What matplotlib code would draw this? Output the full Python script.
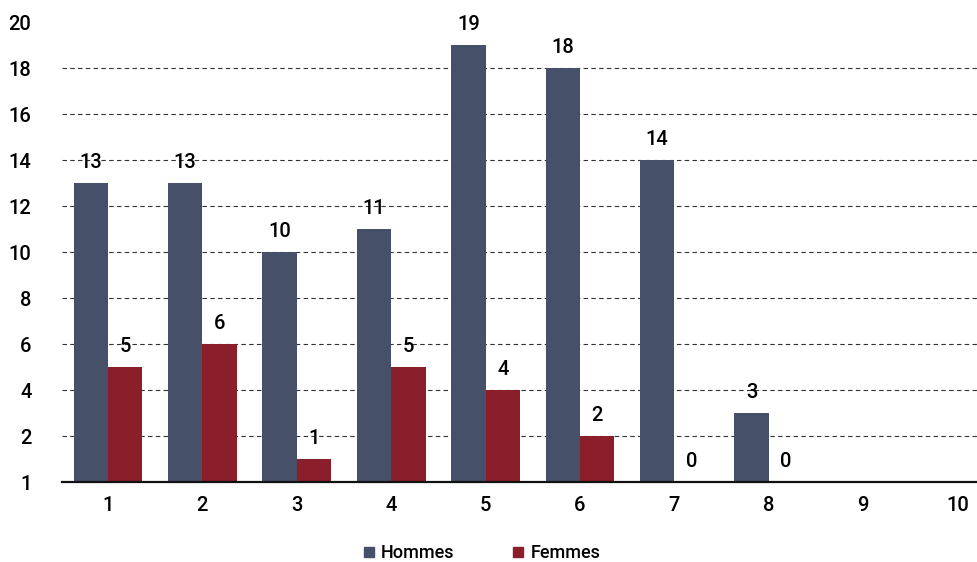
import matplotlib.pyplot as plt
from matplotlib.lines import Line2D
import numpy as np

plt.rcParams['font.family'] = ['Roboto', 'DejaVu Sans']
plt.rcParams['font.weight'] = 'medium'

# data
categories = [1, 2, 3, 4, 5, 6, 7, 8, 9, 10]
hommes = [13, 13, 10, 11, 19, 18, 14, 3, None, None]
femmes = [5, 6, 1, 5, 4, 2, 0, 0, None, None]
ytick_pos = [0, 2, 4, 6, 8, 10, 12, 14, 16, 18, 20]
ytick_lab = ['1', '2', '4', '6', '8', '10', '12', '14', '16', '18', '20']

c_h = '#465068'
c_f = '#8a1e2a'

fig = plt.figure(figsize=(9.78, 5.62), dpi=100)
ax = fig.add_axes([62/978, 80/562, 916/978, 460/562])

x = np.array(categories, dtype=float)
w = 0.365
for xi, h, f in zip(x, hommes, femmes):
    if h is None:
        continue
    ax.bar(xi - w/2, h, w, color=c_h, zorder=3)
    ax.bar(xi + w/2, f, w, color=c_f, zorder=3)
    ax.annotate(str(h), (xi - w/2, h), xytext=(0, 15), textcoords='offset points',
                ha='center', va='center', fontsize=14.5, zorder=4)
    ax.annotate(str(f), (xi + w/2, f), xytext=(0, 15), textcoords='offset points',
                ha='center', va='center', fontsize=14.5, zorder=4)

ax.set_xlim(0.513, 10.216)
ax.set_ylim(0, 20)
ax.set_xticks(x)
ax.set_xticklabels([str(c) for c in categories], fontsize=14.5)
ax.set_yticks(ytick_pos)
ax.set_yticklabels(ytick_lab, fontsize=14.5)
ax.tick_params(axis='both', length=0)
ax.tick_params(axis='x', pad=10)
ax.tick_params(axis='y', pad=22)
for lab in ax.get_yticklabels():
    lab.set_horizontalalignment('right')

ax.yaxis.grid(True, linestyle=(0, (4, 3)), color='#333333', linewidth=0.8, zorder=0)
gl = ax.get_ygridlines()
gl[0].set_visible(False)
gl[-1].set_visible(False)
for s in ['top', 'right', 'left']:
    ax.spines[s].set_visible(False)
ax.spines['bottom'].set_linewidth(1.6)
ax.spines['bottom'].set_color('#111111')
ax.spines['bottom'].set_zorder(5)

handles = [Line2D([], [], marker='s', linestyle='none', markersize=7.5, color=c_h),
           Line2D([], [], marker='s', linestyle='none', markersize=7.5, color=c_f)]
fig.legend(handles, ['Hommes', 'Femmes'], loc='center', bbox_to_anchor=(480/978, 1 - 553/562),
           ncol=2, frameon=False, fontsize=13, handletextpad=0.2, columnspacing=3.0,
           handlelength=1.0)

fig.savefig('out.png', dpi=100)
